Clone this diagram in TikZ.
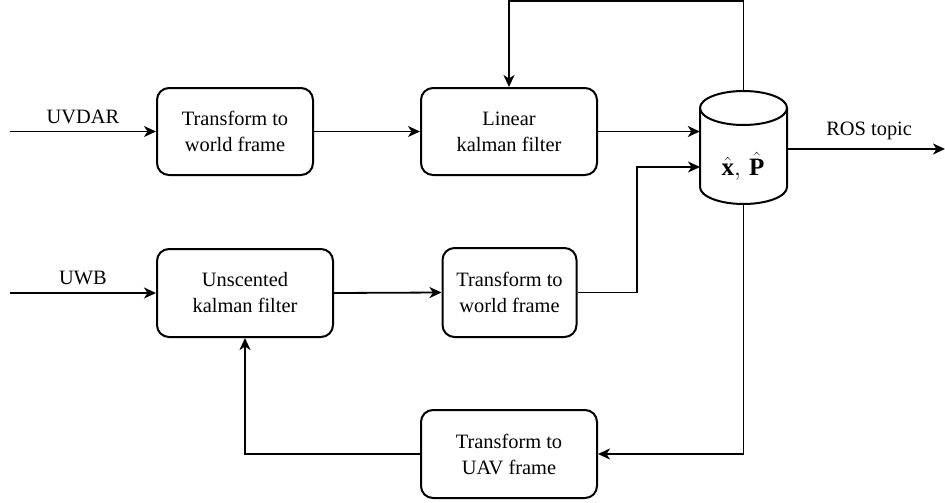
\documentclass[tikz,border=0pt]{standalone}
\usepackage{fontspec}
\setmainfont{Liberation Serif}
\newfontfamily\labelfont{Liberation Serif}
\usetikzlibrary{arrows.meta,calc}

\tikzset{
  x=1pt, y=-1pt,
  txt/.style={font=\labelfont\fontsize{20.4}{26}\selectfont},
  block/.style={txt, draw, line width=2pt, rounded corners=12pt, fill=white,
    align=center, inner sep=0pt},
  link/.style={line width=1.8pt, -{Stealth[length=12pt,width=11pt,inset=3.5pt]}},
  plain/.style={line width=1.8pt},
  lbl/.style={txt, inner sep=0pt}
}

\begin{document}
\begin{tikzpicture}
\useasboundingbox (0,0) rectangle (945,503);

% processing blocks
\node[block, minimum width=156pt, minimum height=87pt] (tw1) at (235,131.5) {Transform to\\world frame};
\node[block, minimum width=176pt, minimum height=87pt] (lkf) at (509,131.5) {Linear\\kalman filter};
\node[block, minimum width=176pt, minimum height=88pt] (ukf) at (245,293) {Unscented\\kalman filter};
\node[block, minimum width=134pt, minimum height=89pt] (tw2) at (509.5,292.5) {Transform to\\world frame};
\node[block, minimum width=176pt, minimum height=88pt] (tuav) at (509,454) {Transform to\\UAV frame};

% state store (cylinder)
\node[minimum width=87pt, minimum height=113pt, inner sep=0pt] (db) at (743.5,147.5) {};
\draw[line width=2pt, fill=white]
  (700,108) -- (700,187) arc (180:0:43.5 and 17) -- (787,108) arc (0:-180:43.5 and 17) -- cycle;
\draw[line width=2pt] (700,108) arc (180:0:43.5 and 17);
\node[inner sep=0pt, font=\labelfont\fontsize{25}{28}\selectfont] (state) at (743,166) {$\hat{\mathbf{x}},\,\hat{\mathbf{P}}$};

% inputs
\coordinate (uvdarIn) at (10,131.5);
\coordinate (uwbIn) at (10,293);
\draw[link] (uvdarIn) -- (tw1.west) node[lbl, midway, above=7pt] (uvdarLbl) {UVDAR};
\draw[link] (uwbIn) -- (ukf.west) node[lbl, midway, above=7pt] (uwbLbl) {UWB};

% upper chain
\draw[link] (tw1.east) -- (lkf.west);
\draw[link] (lkf.east) -- (lkf.east -| db.west);

% lower chain
\draw[link] (ukf.east) -- (tw2.west);
\coordinate (bend) at (637,292.5);
\draw[link] (tw2.east) -- (bend) |- (700,167);

% feedback to the linear filter
\coordinate (topR) at (743.5,1);
\coordinate (topL) at (509,1);
\draw[link] (743.5,91) -- (topR) -- (topL) -- (lkf.north);

% feedback to the unscented filter
\coordinate (botR) at (743.5,454);
\draw[plain] (743.5,204) -- (botR);
\draw[link] (botR) -- (tuav.east);
\draw[link] (tuav.west) -| (ukf.south);

% output
\coordinate (rosOut) at (945,149);
\draw[link] (787,149) -- (rosOut) node[lbl, pos=0.52, above=8pt] (rosLbl) {ROS topic};
\end{tikzpicture}
\end{document}
